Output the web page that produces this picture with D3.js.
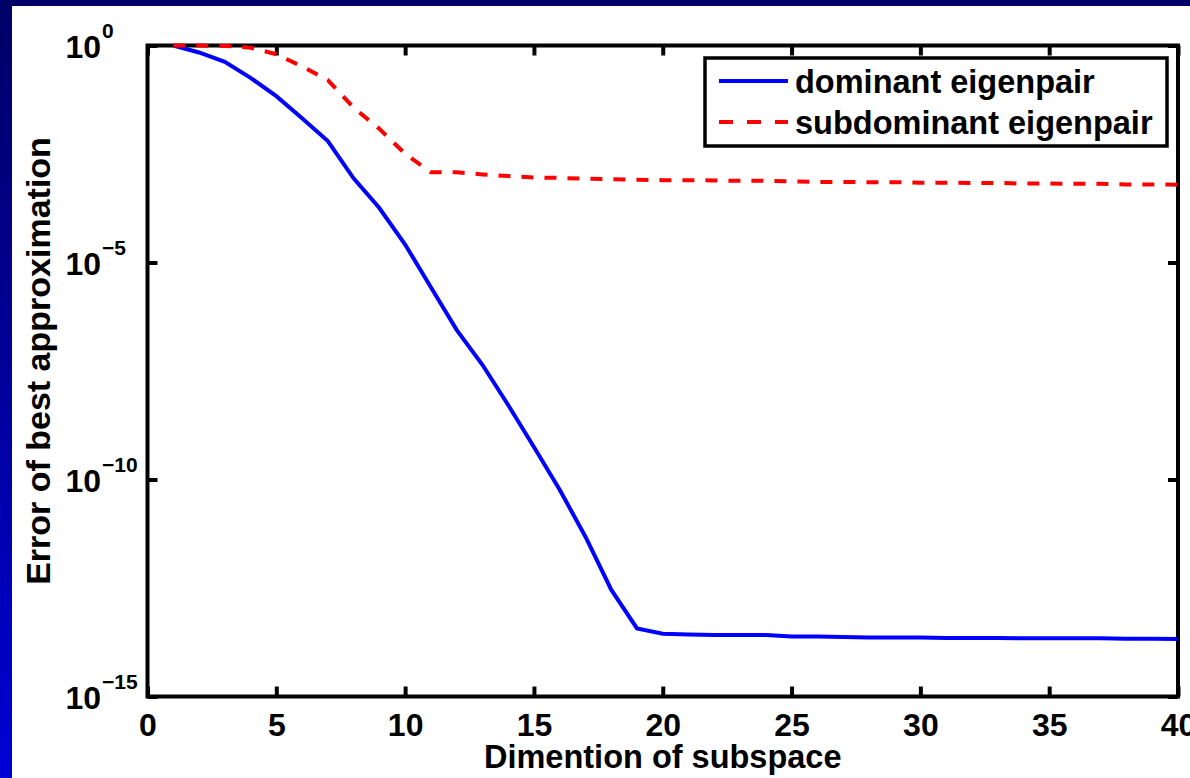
<!DOCTYPE html>
<html>
<head>
<meta charset="utf-8">
<script src="https://cdn.jsdelivr.net/npm/d3@7"></script>
<style>
body { margin: 0; background: #fff; }
svg text { font-family: "Liberation Sans", Arial, sans-serif; font-weight: bold; fill: #000; }
</style>
</head>
<body>
<script>
// dimension of subspace
var dims = [1, 2, 3, 4, 5, 6, 7, 8, 9, 10,
    11, 12, 13, 14, 15, 16, 17, 18, 19, 20,
    21, 22, 23, 24, 25, 26, 27, 28, 29, 30,
    31, 32, 33, 34, 35, 36, 37, 38, 39, 40];

// error of best approximation
var dominant = [1, 0.69, 0.42, 0.18, 0.068, 0.021, 6.3e-3, 8.7e-4, 1.8e-4, 2.6e-5,
    2.7e-6, 2.8e-7, 4.4e-8, 5.2e-9, 5.6e-10, 5.8e-11, 4.8e-12, 2.9e-13, 3.7e-14, 2.8e-14,
    2.7e-14, 2.6e-14, 2.6e-14, 2.6e-14, 2.4e-14, 2.4e-14, 2.35e-14, 2.3e-14, 2.3e-14, 2.3e-14,
    2.24e-14, 2.24e-14, 2.24e-14, 2.2e-14, 2.2e-14, 2.2e-14, 2.2e-14, 2.14e-14, 2.14e-14, 2.1e-14];

var subdominant = [1, 1, 0.98, 0.89, 0.63, 0.33, 0.16, 0.037, 0.012, 3.2e-3,
    1.2e-3, 1.2e-3, 1.07e-3, 9.8e-4, 9.1e-4, 8.9e-4, 8.5e-4, 8.3e-4, 8.1e-4, 7.9e-4,
    7.9e-4, 7.8e-4, 7.6e-4, 7.6e-4, 7.4e-4, 7.2e-4, 7.2e-4, 7.1e-4, 7.1e-4, 6.9e-4,
    6.9e-4, 6.8e-4, 6.8e-4, 6.6e-4, 6.6e-4, 6.5e-4, 6.5e-4, 6.3e-4, 6.3e-4, 6.2e-4];

var seriesNames = ["dominant eigenpair", "subdominant eigenpair"];
var xTicks = [0, 5, 10, 15, 20, 25, 30, 35, 40];
var yTicks = [1, 1e-5, 1e-10, 1e-15];
var yTickExp = ["0", "\u22125", "\u221210", "\u221215"];

var W = 1190, H = 778;
var pl = 147.5, pr = 1178, pt = 45.5, pb = 696.5;

var svg = d3.select("body").append("svg")
    .attr("width", W).attr("height", H);

// slide background: blue strip on the left / top
var grad = svg.append("defs").append("linearGradient")
    .attr("id", "bg").attr("x1", 0).attr("y1", 0).attr("x2", 0).attr("y2", 1);
grad.append("stop").attr("offset", 0).attr("stop-color", "#000066");
grad.append("stop").attr("offset", 1).attr("stop-color", "#0000d4");
svg.append("rect").attr("width", W).attr("height", H).attr("fill", "url(#bg)");
svg.append("rect").attr("x", 12).attr("y", 6).attr("width", W - 12).attr("height", H - 6).attr("fill", "#fff");

var x = d3.scaleLinear().domain([0, 40]).range([pl, pr]);
var y = d3.scaleLog().domain([1e-15, 1]).range([pb, pt]);

// axes with inward ticks on all four sides
var gx = svg.append("g").attr("transform", "translate(0," + pb + ")")
    .call(d3.axisBottom(x).tickValues(xTicks).tickSizeInner(-10).tickSizeOuter(0).tickPadding(0));
gx.selectAll("text").attr("y", 39).attr("dy", null).style("font-size", "32px");

svg.append("g").attr("transform", "translate(0," + pt + ")")
    .call(d3.axisTop(x).tickValues(xTicks).tickSizeInner(-10).tickSizeOuter(0).tickFormat(""));

var gy = svg.append("g").attr("transform", "translate(" + pl + ",0)")
    .call(d3.axisLeft(y).tickValues(yTicks).tickSizeInner(-10).tickSizeOuter(0).tickFormat(""));
gy.selectAll(".tick").each(function(d, i) {
    var t = d3.select(this);
    t.append("text").attr("x", 101 - pl).attr("y", 12).attr("text-anchor", "end")
        .style("font-size", "32px").text("10");
    t.append("text").attr("x", 102 - pl).attr("y", -8).attr("text-anchor", "start")
        .style("font-size", "21px").text(yTickExp[i]);
});

svg.append("g").attr("transform", "translate(" + pr + ",0)")
    .call(d3.axisRight(y).tickValues(yTicks).tickSizeInner(-10).tickSizeOuter(0).tickFormat(""));

svg.selectAll(".domain").remove();
svg.selectAll(".tick line").attr("stroke", "#000").attr("stroke-width", 4);

svg.append("rect")
    .attr("x", pl).attr("y", pt)
    .attr("width", pr - pl).attr("height", pb - pt)
    .attr("fill", "none").attr("stroke", "#000").attr("stroke-width", 4);

// titles
svg.append("text").attr("x", (pl + pr) / 2).attr("y", 768)
    .attr("text-anchor", "middle").style("font-size", "32.5px")
    .text("Dimention of subspace");
svg.append("text")
    .attr("transform", "translate(50," + ((pt + pb) / 2 - 10) + ") rotate(-90)")
    .attr("text-anchor", "middle").style("font-size", "34px")
    .text("Error of best approximation");

// lines
var line = d3.line()
    .x(function(d) { return x(d[0]); })
    .y(function(d) { return y(d[1]); });

svg.append("path").datum(d3.zip(dims, dominant))
    .attr("d", line).attr("fill", "none")
    .attr("stroke", "#0000ff").attr("stroke-width", 4);

svg.append("path").datum(d3.zip(dims, subdominant))
    .attr("d", line).attr("fill", "none")
    .attr("stroke", "#ff0000").attr("stroke-width", 4)
    .attr("stroke-dasharray", "12,11");

// legend
var lg = svg.append("g");
lg.append("rect").attr("x", 705).attr("y", 58).attr("width", 462).attr("height", 88)
    .attr("fill", "#fff").attr("stroke", "#000").attr("stroke-width", 3.5);

var colors = ["#0000ff", "#ff0000"];
var dashes = [null, "14,14"];
seriesNames.forEach(function(name, i) {
    var yy = 81 + i * 41;
    lg.append("line").attr("x1", 719).attr("x2", 788).attr("y1", yy).attr("y2", yy)
        .attr("stroke", colors[i]).attr("stroke-width", 4)
        .attr("stroke-dasharray", dashes[i]);
    lg.append("text").attr("x", 795).attr("y", yy + 12)
        .style("font-size", "32.5px").text(name);
});
</script>
</body>
</html>
